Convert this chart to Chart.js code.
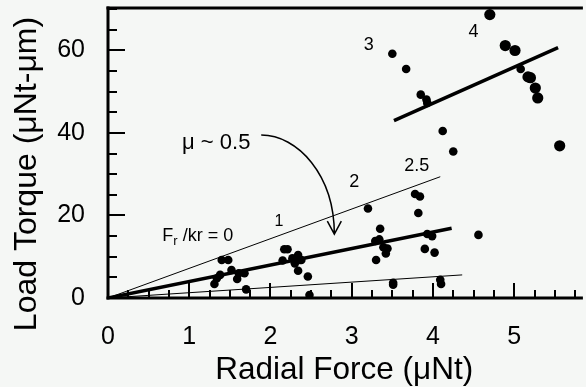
<!DOCTYPE html>
<html>
<head>
<meta charset="utf-8">
<script src="https://cdn.jsdelivr.net/npm/chart.js@4.4.0/dist/chart.umd.min.js"></script>
<style>
  html, body { margin: 0; padding: 0; background: #f5f7f5; }
  #torqueChart { display: block; }
</style>
</head>
<body>
<canvas id="torqueChart" width="586" height="387"></canvas>
<script>
// measured points, normal dots
const dotX = [
  1.31, 1.34, 1.38, 1.40, 1.48, 1.52, 1.59, 1.61, 1.68, 1.70,
  2.15, 2.17, 2.21, 2.27, 2.30, 2.34, 2.36, 2.38, 2.34, 2.46, 2.48,
  3.20, 3.29, 3.30, 3.34, 3.35, 3.39, 3.42, 3.44, 3.51, 3.51,
  3.78, 3.84, 3.82, 3.90, 3.93, 3.99, 4.02, 4.09, 4.10, 4.56,
  3.50, 3.67, 3.85, 3.92, 3.93, 4.12, 4.25, 5.08
];
const dotY = [
  3.4, 4.8, 5.6, 9.2, 9.2, 6.8, 4.6, 6.0, 6.0, 2.1,
  9.1, 11.8, 11.8, 9.6, 8.4, 10.4, 9.2, 9.2, 6.6, 5.2, 0.7,
  21.7, 13.8, 9.2, 14.2, 16.8, 12.3, 10.8, 12.0, 3.7, 3.2,
  25.2, 24.6, 20.6, 11.9, 15.5, 15.0, 11.0, 4.4, 3.4, 15.3,
  59.2, 55.5, 49.3, 48.1, 47.3, 40.5, 35.5, 55.5
];
// larger dots (upper group)
const bigX = [4.70, 4.89, 5.01, 5.17, 5.20, 5.26, 5.29, 5.56];
const bigY = [68.7, 61.2, 60.0, 53.6, 53.4, 50.9, 48.5, 36.9];

// fitted / reference lines
const fitLowX = [0, 4.23];
const fitLowY = [0, 16.9];
const fitHighX = [3.52, 5.54];
const fitHighY = [43.0, 60.7];
const refTopX = [0, 4.09];
const refTopY = [0, 29.4];
const refBottomX = [0, 4.36];
const refBottomY = [0, 5.6];

const xTickValues = [0, 1, 2, 3, 4, 5];
const yTickValues = [0, 20, 40, 60];
const xMinorTicks = [0.25, 0.5, 0.75, 1, 1.25, 1.5, 1.75, 2, 2.25, 2.5, 2.75, 3,
  3.25, 3.5, 3.75, 4, 4.25, 4.5, 4.75, 5, 5.25, 5.5, 5.75];
const yMinorTicks = [5, 10, 15, 20, 25, 30, 35, 40, 45, 50, 55, 60, 65, 70];
const groupLabels = ["1", "2", "2.5", "3", "4"];

const X_MAX = 5.815;
const Y_MAX = 70.3;

// layout of the annotations, in axis units
const LABEL_POS = [
  { x: 2.105, y: 18.5, size: 16 },
  { x: 3.03, y: 28.1, size: 18 },
  { x: 3.80, y: 32.0, size: 18 },
  { x: 3.21, y: 61.3, size: 18 },
  { x: 4.50, y: 64.5, size: 18 },
];
const MU_POS = { x: 1.332, y: 37.7 };
const FR_POS = { x: 0.669, y: 15.1 };
const ARROW = [
  { x: 1.886, y: 39.5 },
  { x: 2.336, y: 39.5 },
  { x: 2.786, y: 29.8 },
  { x: 2.786, y: 15.5 },
];

const FONT = "'Liberation Sans', Arial, Helvetica, sans-serif";
Chart.defaults.font.family = FONT;
Chart.defaults.color = "#000";

function toPoints(xs, ys) {
  return xs.map((x, i) => ({ x: x, y: ys[i] }));
}

function lineSet(xs, ys, width) {
  return {
    data: toPoints(xs, ys),
    showLine: true,
    borderColor: "#000",
    borderWidth: width,
    pointRadius: 0,
    tension: 0,
  };
}

// inward tick marks on the two axes
const tickPlugin = {
  id: "inTicks",
  afterDatasetsDraw(chart) {
    const c = chart.ctx;
    const area = chart.chartArea;
    const sx = chart.scales.x;
    const sy = chart.scales.y;
    c.save();
    c.strokeStyle = "#000";
    c.lineWidth = 2;
    c.beginPath();
    for (const v of xMinorTicks) {
      const px = Math.round(sx.getPixelForValue(v));
      const len = v % 1 === 0 ? 15 : 8;
      c.moveTo(px, area.bottom);
      c.lineTo(px, area.bottom - len);
    }
    for (const v of yMinorTicks) {
      const py = Math.round(sy.getPixelForValue(v));
      const len = v % 20 === 0 ? 17 : 9;
      c.moveTo(area.left, py);
      c.lineTo(area.left + len, py);
    }
    c.stroke();
    c.restore();
  },
};

// frame, texts and the arrow
const decorPlugin = {
  id: "decor",
  afterDraw(chart) {
    const { ctx, chartArea: a, scales } = chart;
    const sx = scales.x, sy = scales.y;
    ctx.save();
    ctx.strokeStyle = "#000";
    ctx.fillStyle = "#000";

    // axes and top border
    ctx.fillRect(a.left - 1.5, a.top - 1.5, a.right - a.left + 4, 3);
    ctx.fillRect(a.left - 1.5, a.top - 1.5, 3, a.bottom - a.top + 3);
    ctx.fillRect(a.left - 1.5, a.bottom - 1.5, a.right - a.left + 4, 3);

    // group labels
    ctx.textAlign = "center";
    ctx.textBaseline = "middle";
    groupLabels.forEach((t, i) => {
      const p = LABEL_POS[i];
      ctx.font = p.size + "px " + FONT;
      ctx.fillText(t, sx.getPixelForValue(p.x), sy.getPixelForValue(p.y));
    });

    ctx.font = "22px " + FONT;
    ctx.fillText("\u03bc ~ 0.5", sx.getPixelForValue(MU_POS.x), sy.getPixelForValue(MU_POS.y));

    // F_r /kr = 0
    let fx = sx.getPixelForValue(FR_POS.x);
    const fy = sy.getPixelForValue(FR_POS.y);
    ctx.textAlign = "left";
    ctx.font = "18px " + FONT;
    ctx.fillText("F", fx, fy);
    fx += ctx.measureText("F").width;
    ctx.font = "13px " + FONT;
    ctx.fillText("r", fx, fy + 6);
    fx += ctx.measureText("r").width;
    ctx.font = "18px " + FONT;
    ctx.fillText(" /kr = 0", fx, fy);

    // curved arrow
    const p = ARROW.map((q) => ({ x: sx.getPixelForValue(q.x), y: sy.getPixelForValue(q.y) }));
    ctx.lineWidth = 1.5;
    ctx.beginPath();
    ctx.moveTo(p[0].x, p[0].y);
    ctx.bezierCurveTo(p[1].x, p[1].y, p[2].x, p[2].y, p[3].x, p[3].y);
    ctx.moveTo(p[3].x - 7, p[3].y - 13);
    ctx.lineTo(p[3].x, p[3].y);
    ctx.lineTo(p[3].x + 7, p[3].y - 13);
    ctx.stroke();

    // y axis title
    ctx.save();
    ctx.translate(27, 174);
    ctx.rotate(-Math.PI / 2);
    ctx.textAlign = "center";
    ctx.textBaseline = "middle";
    ctx.font = "32px " + FONT;
    ctx.fillText("Load Torque (\u03bcNt-\u03bcm)", 0, 0);
    ctx.restore();

    ctx.restore();
  },
};

const ctx = document.getElementById("torqueChart").getContext("2d");

new Chart(ctx, {
  type: "scatter",
  data: {
    datasets: [
      lineSet(refTopX, refTopY, 1),
      lineSet(refBottomX, refBottomY, 1),
      lineSet(fitLowX, fitLowY, 3.5),
      lineSet(fitHighX, fitHighY, 3.5),
      {
        data: toPoints(dotX, dotY),
        backgroundColor: "#000",
        borderColor: "#000",
        borderWidth: 0,
        pointRadius: 4.3,
      },
      {
        data: toPoints(bigX, bigY),
        backgroundColor: "#000",
        borderColor: "#000",
        borderWidth: 0,
        pointRadius: 5.6,
      },
    ],
  },
  options: {
    responsive: false,
    devicePixelRatio: 1,
    animation: false,
    layout: { padding: { top: 8, right: 0, bottom: 0, left: 0 } },
    plugins: {
      legend: { display: false },
      tooltip: { enabled: false },
    },
    scales: {
      x: {
        type: "linear",
        min: 0,
        max: X_MAX,
        afterFit: (s) => {
          s.height = 89;
          s.paddingLeft = 0;
          s.paddingRight = 0;
        },
        grid: { display: false, drawTicks: false },
        border: { display: false },
        afterBuildTicks: (s) => { s.ticks = xTickValues.map((v) => ({ value: v })); },
        ticks: {
          font: { size: 25 },
          color: "#000",
          padding: 24,
          maxRotation: 0,
        },
        title: {
          display: true,
          text: "Radial Force (\u03bcNt)",
          font: { size: 31.5 },
          color: "#000",
          padding: { top: 0, bottom: -2 },
        },
      },
      y: {
        type: "linear",
        min: 0,
        max: Y_MAX,
        afterFit: (s) => {
          s.width = 108;
          s.paddingTop = 0;
          s.paddingBottom = 0;
        },
        grid: { display: false, drawTicks: false },
        border: { display: false },
        afterBuildTicks: (s) => { s.ticks = yTickValues.map((v) => ({ value: v })); },
        ticks: {
          font: { size: 25 },
          color: "#000",
          padding: 23,
        },
      },
    },
  },
  plugins: [tickPlugin, decorPlugin],
});
</script>
</body>
</html>
